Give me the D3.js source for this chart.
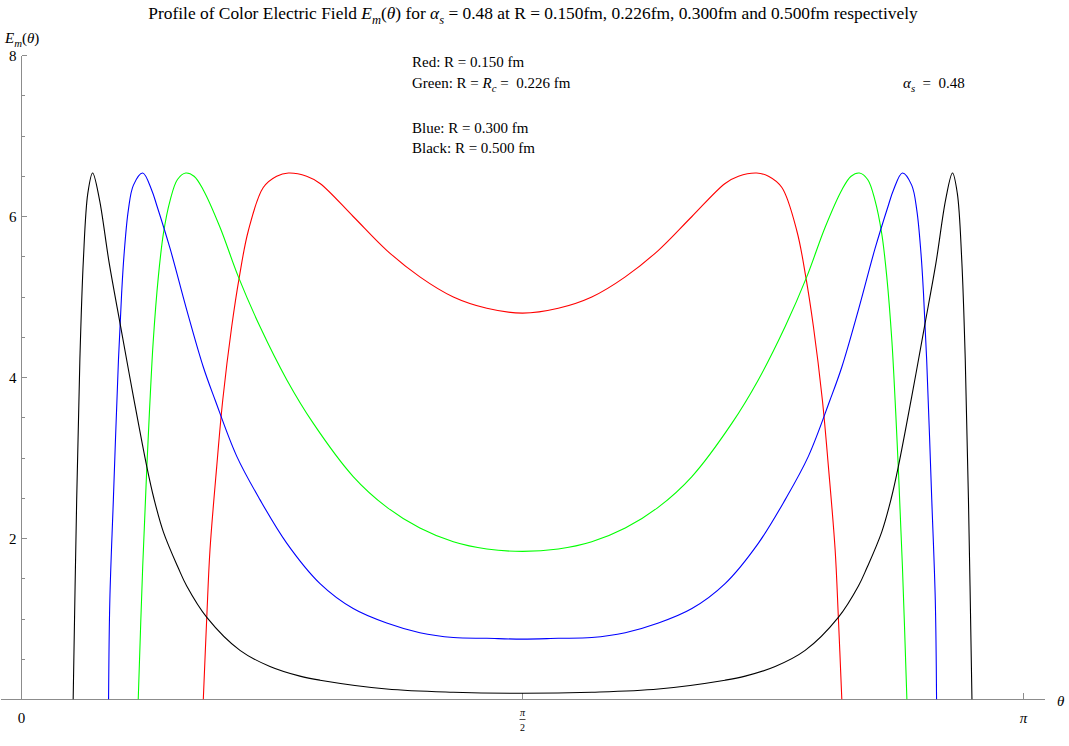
<!DOCTYPE html>
<html>
<head>
<meta charset="utf-8">
<script src="https://cdn.jsdelivr.net/npm/d3@7"></script>
<style>
  body { margin: 0; background: #fff; }
  svg { font-family: "Liberation Serif", "Times New Roman", serif; }
  text { white-space: pre; }
</style>
</head>
<body>
<div id="chart"></div>
<script>
// theta in radians, E_m(theta)
const redTheta = [0.570, 0.581, 0.591, 0.612, 0.631, 0.659, 0.683, 0.711, 0.758, 0.800, 0.837, 0.894, 0.936, 1.040, 1.145, 1.249, 1.354, 1.459,
    1.571,
    1.683, 1.788, 1.893, 1.997, 2.102, 2.206, 2.248, 2.305, 2.342, 2.384, 2.431, 2.459, 2.483, 2.511, 2.530, 2.551, 2.561, 2.572];
const redE = [0, 1.03, 1.86, 2.89, 3.72, 4.63, 5.25, 5.82, 6.36, 6.50, 6.54, 6.50, 6.41, 6.00, 5.58, 5.25, 5.00, 4.86,
    4.80,
    4.86, 5.00, 5.25, 5.58, 6.00, 6.41, 6.50, 6.54, 6.50, 6.36, 5.82, 5.25, 4.63, 3.72, 2.89, 1.86, 1.03, 0];

const greenTheta = [0.366, 0.380, 0.393, 0.403, 0.413, 0.429, 0.445, 0.466, 0.489, 0.515, 0.541, 0.570, 0.622, 0.680, 0.748, 0.832, 0.915, 1.040, 1.145, 1.249, 1.354, 1.459,
    1.571,
    1.683, 1.788, 1.893, 1.997, 2.102, 2.227, 2.310, 2.394, 2.462, 2.520, 2.572, 2.601, 2.627, 2.653, 2.676, 2.697, 2.713, 2.729, 2.739, 2.749, 2.762, 2.776];
const greenE = [0, 1.65, 2.89, 3.72, 4.45, 5.25, 5.79, 6.20, 6.46, 6.54, 6.50, 6.33, 5.87, 5.25, 4.63, 3.97, 3.43, 2.77, 2.39, 2.13, 1.96, 1.87,
    1.84,
    1.87, 1.96, 2.13, 2.39, 2.77, 3.43, 3.97, 4.63, 5.25, 5.87, 6.33, 6.50, 6.54, 6.46, 6.20, 5.79, 5.25, 4.45, 3.72, 2.89, 1.65, 0];

const blueTheta = [0.273, 0.277, 0.288, 0.304, 0.314, 0.322, 0.335, 0.351, 0.380, 0.408, 0.424, 0.466, 0.518, 0.570, 0.607, 0.675, 0.748, 0.832, 0.936, 1.040, 1.145, 1.249, 1.354, 1.459,
    1.571,
    1.683, 1.788, 1.893, 1.997, 2.102, 2.206, 2.310, 2.394, 2.467, 2.535, 2.572, 2.624, 2.676, 2.718, 2.734, 2.762, 2.791, 2.807, 2.820, 2.828, 2.838, 2.854, 2.865, 2.869];
const blueE = [0, 1.24, 2.48, 4.22, 5.05, 5.55, 6.08, 6.39, 6.54, 6.33, 6.14, 5.60, 4.84, 4.13, 3.72, 3.02, 2.48, 1.94, 1.44, 1.13, 0.95, 0.83, 0.77, 0.76,
    0.75,
    0.76, 0.77, 0.83, 0.95, 1.13, 1.44, 1.94, 2.48, 3.02, 3.72, 4.13, 4.84, 5.60, 6.14, 6.33, 6.54, 6.39, 6.08, 5.55, 5.05, 4.22, 2.48, 1.24, 0];

const blackTheta = [0.162, 0.173, 0.183, 0.194, 0.208, 0.223, 0.244, 0.275, 0.311, 0.351, 0.393, 0.415, 0.445, 0.492, 0.518, 0.581, 0.685, 0.779, 0.873, 0.936, 1.145, 1.354,
    1.571,
    1.788, 1.997, 2.206, 2.269, 2.363, 2.457, 2.561, 2.624, 2.650, 2.697, 2.727, 2.749, 2.791, 2.831, 2.867, 2.898, 2.919, 2.934, 2.948, 2.959, 2.969, 2.980];
const blackE = [0, 2.48, 4.22, 5.46, 6.29, 6.54, 6.22, 5.42, 4.63, 3.76, 2.89, 2.50, 2.08, 1.63, 1.41, 1.02, 0.61, 0.41, 0.29, 0.24, 0.13, 0.09,
    0.077,
    0.09, 0.13, 0.24, 0.29, 0.41, 0.61, 1.02, 1.41, 1.63, 2.08, 2.50, 2.89, 3.76, 4.63, 5.42, 6.22, 6.54, 6.29, 5.46, 4.22, 2.48, 0];

const yTicks = [2, 4, 6, 8];
const yMinorTicks = d3.range(0.5, 8, 0.5).filter(v => v % 2 !== 0);
const xTicks = [0, Math.PI / 2, Math.PI];

const series = [
    {name: "red", color: "#ff0000", theta: redTheta, e: redE},
    {name: "green", color: "#00ff00", theta: greenTheta, e: greenE},
    {name: "blue", color: "#0000ff", theta: blueTheta, e: blueE},
    {name: "black", color: "#000000", theta: blackTheta, e: blackE}
];

const width = 1069, height = 746;
const axisColor = "#8c8c8c";

const svg = d3.select("#chart").append("svg")
    .attr("width", width)
    .attr("height", height);

const x = d3.scaleLinear().domain([0, Math.PI]).range([21.5, 1023.5]);
const y = d3.scaleLinear().domain([0, 8]).range([699.5, 55.5]);

// write text made of plain / italic / subscript pieces
function richText(parent, px, py, parts, size, anchor) {
    const t = parent.append("text")
        .attr("x", px).attr("y", py)
        .attr("font-size", size)
        .attr("text-anchor", anchor || "start")
        .attr("fill", "#000");
    let shift = 0;
    parts.forEach(p => {
        const want = p.sub ? size * 0.28 : 0;
        const s = t.append("tspan")
            .attr("dy", want - shift)
            .text(p.t);
        if (p.i) s.attr("font-style", "italic");
        if (p.sub) s.attr("font-size", size * 0.72);
        shift = want;
    });
    return t;
}

// title
richText(svg, 533, 19, [
    {t: "Profile of Color Electric Field "},
    {t: "E", i: true}, {t: "m", i: true, sub: true},
    {t: "("}, {t: "θ", i: true}, {t: ")"},
    {t: " for "},
    {t: "α", i: true}, {t: "s", i: true, sub: true},
    {t: " = 0.48 at R = 0.150fm, 0.226fm, 0.300fm and 0.500fm respectively"}
], 17.4, "middle");

// axes
const axes = svg.append("g").attr("stroke", axisColor).attr("fill", "none").attr("shape-rendering", "crispEdges");

axes.append("line")
    .attr("x1", 1).attr("x2", 1045)
    .attr("y1", y(0)).attr("y2", y(0));
axes.append("line")
    .attr("x1", x(0)).attr("x2", x(0))
    .attr("y1", y(0)).attr("y2", y(8));

axes.selectAll("line.ymajor").data(yTicks).enter().append("line")
    .attr("class", "ymajor")
    .attr("x1", x(0)).attr("x2", x(0) + 5)
    .attr("y1", d => y(d)).attr("y2", d => y(d));
axes.selectAll("line.yminor").data(yMinorTicks).enter().append("line")
    .attr("class", "yminor")
    .attr("x1", x(0)).attr("x2", x(0) + 3)
    .attr("y1", d => y(d)).attr("y2", d => y(d));
axes.selectAll("line.xmajor").data(xTicks.slice(1)).enter().append("line")
    .attr("class", "xmajor")
    .attr("x1", d => x(d)).attr("x2", d => x(d))
    .attr("y1", y(0)).attr("y2", y(0) - 7);

svg.selectAll("text.ylab").data(yTicks).enter().append("text")
    .attr("class", "ylab")
    .attr("x", x(0) - 5)
    .attr("y", d => y(d) + 5)
    .attr("text-anchor", "end")
    .attr("font-size", 15)
    .text(d => d);

// x tick labels: 0, pi/2, pi
svg.append("text").attr("x", x(0)).attr("y", 723).attr("text-anchor", "middle").attr("font-size", 15).text("0");
svg.append("text").attr("x", x(Math.PI)).attr("y", 723).attr("text-anchor", "middle").attr("font-size", 15)
    .attr("font-style", "italic").text("π");
svg.append("text").attr("x", x(Math.PI / 2)).attr("y", 716).attr("text-anchor", "middle").attr("font-size", 10)
    .attr("font-style", "italic").text("π");
svg.append("line")
    .attr("x1", x(Math.PI / 2) - 3).attr("x2", x(Math.PI / 2) + 3)
    .attr("y1", 719.5).attr("y2", 719.5)
    .attr("stroke", "#000").attr("stroke-width", 0.7);
svg.append("text").attr("x", x(Math.PI / 2)).attr("y", 731).attr("text-anchor", "middle").attr("font-size", 10).text("2");

// axis labels
richText(svg, 5, 43, [{t: "E", i: true}, {t: "m", i: true, sub: true}, {t: "("}, {t: "θ", i: true}, {t: ")"}], 15);
richText(svg, 1057, 706, [{t: "θ", i: true}], 15);

// annotations
richText(svg, 412, 67, [{t: "Red: R = 0.150 fm"}], 15);
richText(svg, 412, 88, [{t: "Green: R = "}, {t: "R", i: true}, {t: "c", i: true, sub: true}, {t: " =  0.226 fm"}], 15);
richText(svg, 412, 133, [{t: "Blue: R = 0.300 fm"}], 15);
richText(svg, 412, 153, [{t: "Black: R = 0.500 fm"}], 15);
richText(svg, 903, 88, [{t: "α", i: true}, {t: "s", i: true, sub: true}, {t: "  =  0.48"}], 15);

// curves
svg.append("clipPath").attr("id", "plotclip")
    .append("rect").attr("x", 0).attr("y", y(8)).attr("width", width).attr("height", y(0) - y(8));

const line = d3.line()
    .x(d => x(d[0]))
    .y(d => y(d[1]))
    .curve(d3.curveCatmullRom.alpha(0.5));

svg.append("g").attr("clip-path", "url(#plotclip)")
    .selectAll("path").data(series).enter().append("path")
    .attr("fill", "none")
    .attr("stroke", d => d.color)
    .attr("stroke-width", 1.1)
    .attr("d", d => line(d.theta.map((t, i) => [t, d.e[i]])));
</script>
</body>
</html>
